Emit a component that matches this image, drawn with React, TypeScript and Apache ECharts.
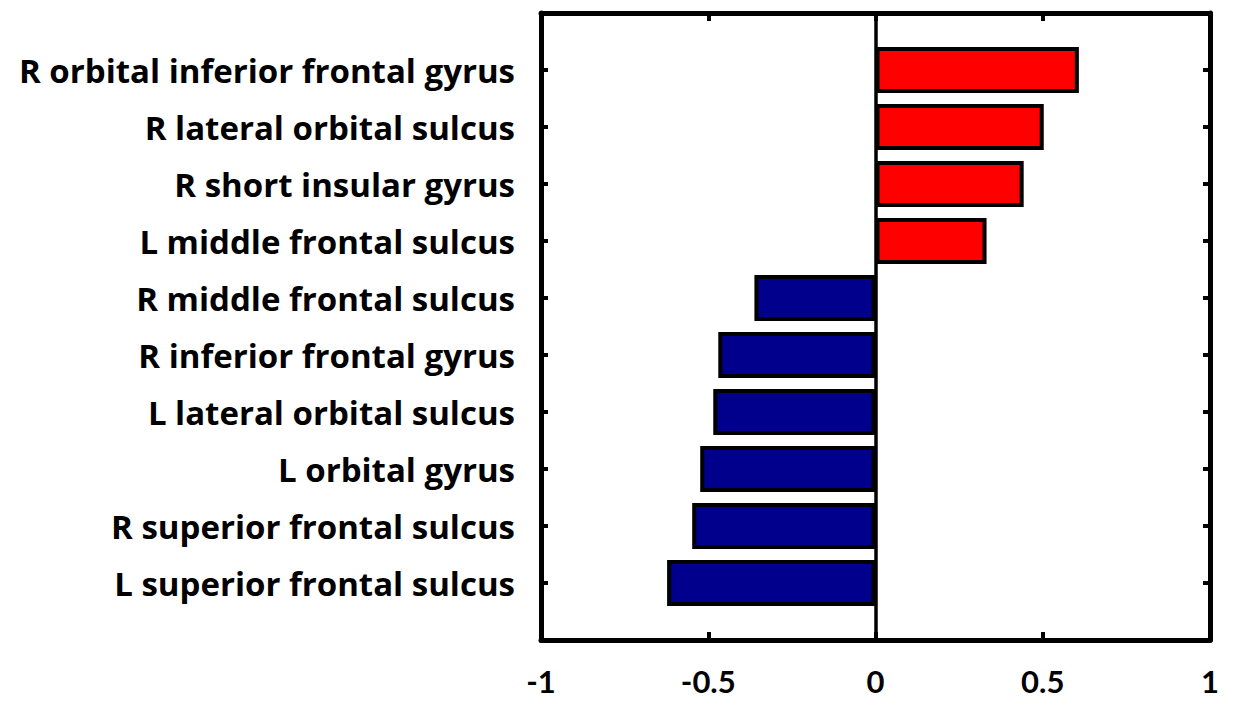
import React, { useEffect, useRef } from "react";
import * as echarts from "echarts";

const regions: string[] = [
  "R orbital inferior frontal gyrus",
  "R lateral orbital sulcus",
  "R short insular gyrus",
  "L middle frontal sulcus",
  "R middle frontal sulcus",
  "R inferior frontal gyrus",
  "L lateral orbital sulcus",
  "L orbital gyrus",
  "R superior frontal sulcus",
  "L superior frontal sulcus",
];
const values: number[] = [0.608, 0.503, 0.443, 0.332, -0.362, -0.47, -0.485, -0.524, -0.548, -0.623];
const xTicks: number[] = [-1, -0.5, 0, 0.5, 1];

const POS = "#ff0000";
const NEG = "#00008c";

export default function App() {
  const ref = useRef<HTMLDivElement>(null);
  useEffect(() => {
    if (!ref.current) return;
    const chart = echarts.init(ref.current, undefined, { renderer: "svg" });
    const cats = ["", ...regions, ""];
    const data = [
      null,
      ...values.map((v) => ({ value: v, itemStyle: { color: v >= 0 ? POS : NEG } })),
      null,
    ];
    const tickInterval = (i: number) => i > 0 && i < cats.length - 1;
    const yBase = {
      type: "category" as const,
      data: cats,
      inverse: true,
      boundaryGap: false,
      axisLine: { show: true, onZero: false, lineStyle: { color: "#000", width: 5 } },
      axisTick: { show: true, inside: true, length: 7, interval: (i: number) => tickInterval(i), lineStyle: { color: "#000", width: 4 } },
      splitLine: { show: false },
    };
    const xBase = {
      type: "value" as const,
      min: -1,
      max: 1,
      interval: 0.5,
      axisLine: { show: true, onZero: false, lineStyle: { color: "#000", width: 5 } },
      axisTick: { show: true, inside: true, length: 8, lineStyle: { color: "#000", width: 4 } },
      splitLine: { show: false },
    };
    chart.setOption({
      animation: false,
      backgroundColor: "#fff",
      grid: { left: 541, right: 23, top: 13, bottom: 62 },
      xAxis: [
        {
          ...xBase,
          position: "bottom",
          axisLabel: {
            color: "#000",
            fontFamily: "Lato, sans-serif",
            fontWeight: "bold",
            fontSize: 31,
            margin: 25,
            formatter: (v: number) => (xTicks.includes(v) ? String(v) : ""),
          },
        },
        { ...xBase, position: "top", axisLabel: { show: false } },
      ],
      yAxis: [
        {
          ...yBase,
          position: "left",
          axisLabel: {
            color: "#000",
            fontFamily: "'Open Sans', sans-serif",
            fontWeight: "bold",
            fontSize: 33,
            margin: 26,
          },
        },
        { ...yBase, position: "right", axisLabel: { show: false } },
      ],
      series: [
        {
          type: "bar",
          xAxisIndex: 0,
          yAxisIndex: 0,
          data,
          barWidth: 46,
          itemStyle: { borderColor: "#000", borderWidth: 4 },
          markLine: {
            silent: true,
            symbol: "none",
            label: { show: false },
            lineStyle: { color: "#000", width: 3.5, type: "solid" },
            data: [{ xAxis: 0 }],
          },
        },
      ],
    });
    return () => chart.dispose();
  }, []);
  return (
    <div
      ref={ref}
      style={{ position: "fixed", left: 0, top: 0, width: 1233, height: 702 }}
    />
  );
}
